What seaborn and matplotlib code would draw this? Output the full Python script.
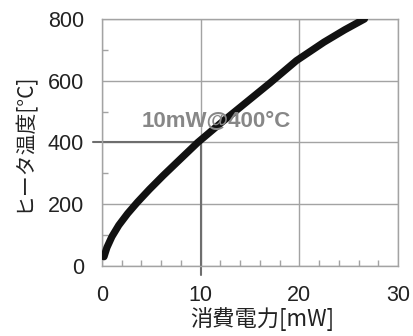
import matplotlib
matplotlib.use("Agg")
import matplotlib.pyplot as plt
from matplotlib.ticker import MultipleLocator
import seaborn as sns
import pandas as pd

# Heater temperature vs. power consumption
power_mw = [0.2, 0.5, 1.0, 1.7, 2.6, 3.6, 4.8, 6.2, 7.8, 9.7, 12.0, 14.5,
            17.0, 19.7, 22.5, 24.6, 26.6]
temp_c = [30, 60, 95, 132, 170, 207, 248, 293, 342, 400, 462, 527,
          592, 665, 725, 765, 800]

x_ticks = [0, 10, 20, 30]
y_ticks = [0, 200, 400, 600, 800]
op_power = 10
op_temp = 400
op_label = "10mW@400°C"

sns.set_style("white")
plt.rcParams["font.family"] = ["Liberation Sans", "Noto Sans CJK JP"]

df = pd.DataFrame({"power": power_mw, "temp": temp_c})

fig = plt.figure(figsize=(4.14, 3.36), dpi=100)
ax = fig.add_axes([0.2464, 0.2083, 0.7150, 0.7352])

grid_col = "#a3a3a3"
ax.set_xlim(0, 30)
ax.set_ylim(0, 800)
ax.set_xticks(x_ticks)
ax.set_yticks(y_ticks)
ax.xaxis.set_minor_locator(MultipleLocator(2))
ax.yaxis.set_minor_locator(MultipleLocator(100))
ax.grid(True, which="major", color=grid_col, linewidth=1.0)
ax.set_axisbelow(True)
for s in ax.spines.values():
    s.set_color(grid_col)
    s.set_linewidth(1.0)

ax.tick_params(which="both", bottom=True, left=True, top=False, right=False)
ax.tick_params(axis="both", which="major", length=0, labelsize=15.5,
               labelcolor="#222222")
ax.tick_params(axis="x", which="major", pad=14)
ax.tick_params(axis="y", which="major", pad=13)
ax.tick_params(axis="both", which="minor", direction="in", length=4,
               width=1.0, color=grid_col)

# operating-point guide lines
ax.plot([-0.9, op_power], [op_temp, op_temp], color="#6e6e6e", lw=1.5,
        clip_on=False, zorder=2)
ax.plot([op_power, op_power], [-28, op_temp], color="#6e6e6e", lw=1.5,
        clip_on=False, zorder=2)

sns.lineplot(data=df, x="power", y="temp", ax=ax, color="#111111",
             linewidth=5.2, solid_capstyle="round", zorder=3)

ax.text(4.0, 451, op_label, color="#878787", fontsize=16, fontweight="bold",
        ha="left", va="baseline", zorder=4)

ax.set_xlabel("消費電力[mW]", fontsize=16, color="#222222",
              family=["Noto Sans CJK JP", "Liberation Sans"])
ax.set_ylabel("ヒータ温度[°C]", fontsize=15, color="#222222",
              family=["Noto Sans CJK JP", "Liberation Sans"])
ax.xaxis.set_label_coords(0.54, -0.165)
ax.yaxis.set_label_coords(-0.228, 0.5)

fig.savefig("out.png", dpi=100)
